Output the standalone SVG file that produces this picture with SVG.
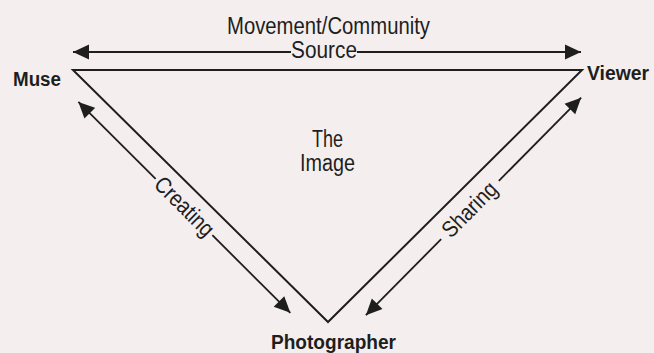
<svg xmlns="http://www.w3.org/2000/svg" width="654" height="353" viewBox="0 0 654 353">
<defs>
<marker id="ah" markerUnits="userSpaceOnUse" markerWidth="18" markerHeight="16" viewBox="0 -8 17 16" refX="16" refY="0" orient="auto-start-reverse">
<path d="M0,-7.5 L16,0 L0,7.5 z" fill="#1e1e1e"/>
</marker>
<style>
.lbl{font-family:"Liberation Sans",Arial,sans-serif;font-size:23px;fill:#1e1e1e}
.node{font-family:"Liberation Sans",Arial,sans-serif;font-weight:bold;fill:#1e1e1e}
.edge{stroke:#1e1e1e;stroke-width:1.8;fill:none}
.tri{stroke:#1e1e1e;stroke-width:2;fill:none;stroke-linejoin:miter}
</style>
</defs>
<rect width="654" height="353" fill="#f4efee"/>
<g id="image">
<polygon class="tri" points="73,70 582,70 328,322"/>
<text class="lbl" x="327.5" y="147" text-anchor="middle" textLength="31" lengthAdjust="spacingAndGlyphs">The</text>
<text class="lbl" x="327.5" y="171" text-anchor="middle" textLength="55" lengthAdjust="spacingAndGlyphs">Image</text>
</g>
<g id="muse"><text class="node" x="13" y="86" font-size="20" textLength="48" lengthAdjust="spacingAndGlyphs">Muse</text></g>
<g id="viewer"><text class="node" x="587" y="80" font-size="21" textLength="62" lengthAdjust="spacingAndGlyphs">Viewer</text></g>
<g id="photographer"><text class="node" x="271" y="349" font-size="21" textLength="125" lengthAdjust="spacingAndGlyphs">Photographer</text></g>
<g id="connectors">
<g id="source">
<text class="lbl" x="328.5" y="34" text-anchor="middle" textLength="203" lengthAdjust="spacingAndGlyphs">Movement/Community</text>
<text class="lbl" x="324" y="58" text-anchor="middle" textLength="66" lengthAdjust="spacingAndGlyphs">Source</text>
<line class="edge" x1="73" y1="52" x2="291" y2="52" marker-start="url(#ah)"/>
<line class="edge" x1="357" y1="52" x2="581" y2="52" marker-end="url(#ah)"/>
</g>
<g id="creating" transform="translate(184,207) rotate(44.86)">
<line class="edge" x1="-149" y1="0" x2="-40" y2="0" marker-start="url(#ah)"/>
<line class="edge" x1="40" y1="0" x2="150" y2="0" marker-end="url(#ah)"/>
<text class="lbl" x="0" y="7" text-anchor="middle" textLength="74" lengthAdjust="spacingAndGlyphs">Creating</text>
</g>
<g id="sharing" transform="translate(470,210) rotate(-45.3)">
<line class="edge" x1="-148" y1="0" x2="-41" y2="0" marker-start="url(#ah)"/>
<line class="edge" x1="41" y1="0" x2="158" y2="0" marker-end="url(#ah)"/>
<text class="lbl" x="0" y="7" text-anchor="middle" textLength="68" lengthAdjust="spacingAndGlyphs">Sharing</text>
</g>
</g>
</svg>
